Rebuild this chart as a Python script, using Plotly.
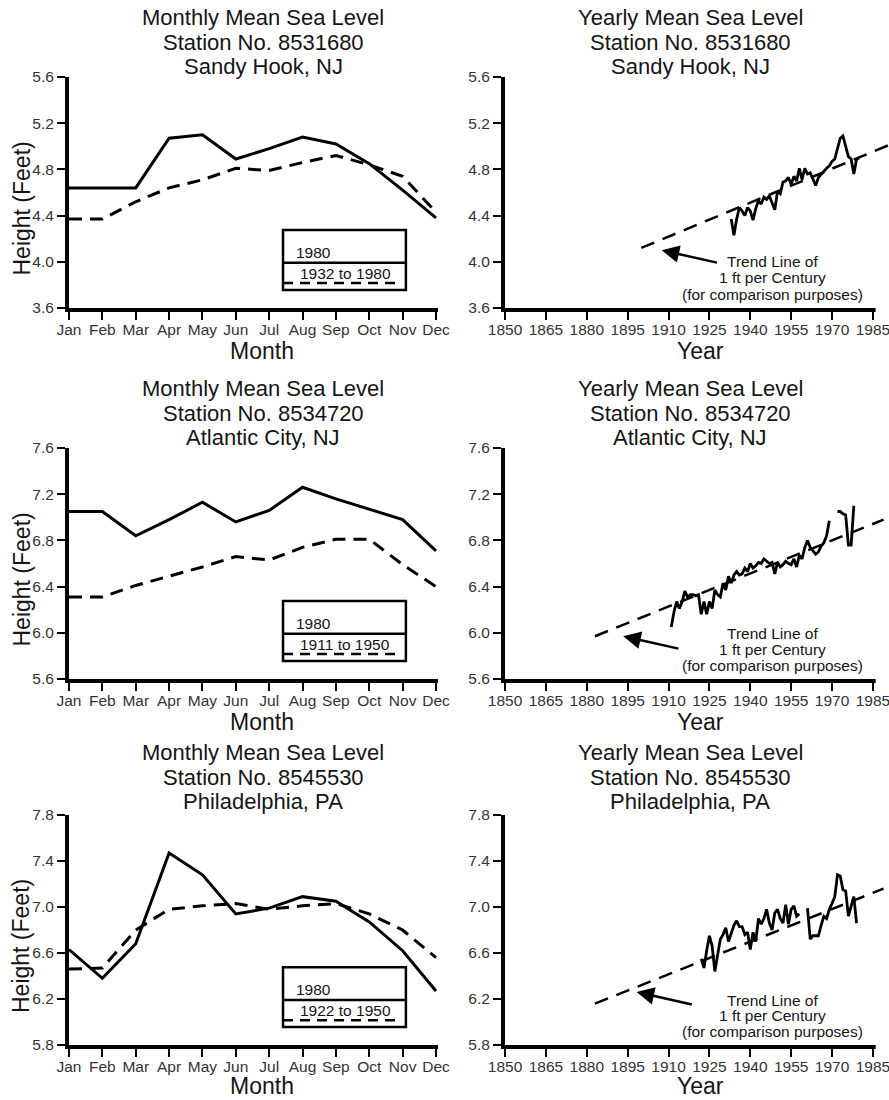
import plotly.graph_objects as go

FONT = "Liberation Sans, Arial, Helvetica, sans-serif"
INK = "#151515"
TICK_INK = "#333333"

# ---- categories / labels ----
MONTHS = ["Jan", "Feb", "Mar", "Apr", "May", "Jun", "Jul", "Aug", "Sep", "Oct", "Nov", "Dec"]
MONTH_POS = list(range(1, 13))

STATIONS = ["Sandy Hook, NJ", "Atlantic City, NJ", "Philadelphia, PA"]
STATION_IDS = ["8531680", "8534720", "8545530"]
MEAN_PERIODS = ["1932 to 1980", "1911 to 1950", "1922 to 1950"]

# ---- monthly mean sea level (feet) ----
SANDY_1980 = [4.64, 4.64, 4.64, 5.07, 5.10, 4.89, 4.98, 5.08, 5.02, 4.85, 4.62, 4.38]
SANDY_MEAN = [4.37, 4.37, 4.52, 4.64, 4.71, 4.81, 4.79, 4.86, 4.92, 4.84, 4.74, 4.43]

ATLANTIC_1980 = [7.05, 7.05, 6.84, 6.98, 7.13, 6.96, 7.06, 7.26, 7.16, 7.07, 6.98, 6.71]
ATLANTIC_MEAN = [6.31, 6.31, 6.41, 6.49, 6.57, 6.66, 6.63, 6.74, 6.81, 6.81, 6.59, 6.40]

PHILLY_1980 = [6.63, 6.38, 6.68, 7.47, 7.28, 6.94, 6.99, 7.09, 7.05, 6.87, 6.62, 6.27]
PHILLY_MEAN = [6.46, 6.47, 6.80, 6.98, 7.01, 7.03, 6.98, 7.01, 7.03, 6.94, 6.80, 6.56]

# ---- yearly mean sea level (feet) ----
SANDY_YEARS = list(range(1933, 1981))
SANDY_YEARLY = [
    4.37, 4.23, 4.37, 4.47, 4.44, 4.40, 4.47, 4.44, 4.36, 4.46,   # 1933-1942
    4.53, 4.50, 4.56, 4.54, 4.57, 4.51, 4.45, 4.61, 4.59, 4.69,   # 1943-1952
    4.70, 4.73, 4.67, 4.74, 4.70, 4.81, 4.71, 4.81, 4.76, 4.77,   # 1953-1962
    4.71, 4.66, 4.73, 4.76, 4.79, 4.81, 4.83, 4.87, 4.89, 4.97,   # 1963-1972
    5.07, 5.09, 5.01, 4.91, 4.89, 4.76, 4.89, 4.90,               # 1973-1980
]

ATLANTIC_YEARS = list(range(1911, 1979))
ATLANTIC_YEARLY = [
    6.05, 6.18, 6.27, 6.21, 6.27, 6.36, 6.31, 6.33, 6.33, 6.32,   # 1911-1920
    6.33, 6.16, 6.27, 6.16, 6.27, 6.21, 6.37, 6.33, 6.31, 6.43,   # 1921-1930
    6.37, 6.49, 6.43, 6.50, 6.53, 6.50, 6.51, 6.56, 6.53, 6.60,   # 1931-1940
    6.56, 6.58, 6.61, 6.60, 6.64, 6.62, 6.60, 6.61, 6.51, 6.61,   # 1941-1950
    6.57, 6.59, 6.62, 6.60, 6.59, 6.64, 6.57, 6.67, 6.64, 6.74,   # 1951-1960
    6.80, 6.74, 6.71, 6.68, 6.70, 6.75, 6.78, 6.84, 6.97, None,   # 1961-1970
    None, 7.05, 7.05, 7.03, 7.02, 6.76, 6.76, 7.10,               # 1971-1978
]

PHILLY_YEARS = list(range(1922, 1980))
PHILLY_YEARLY = [
    6.55, 6.47, 6.62, 6.75, 6.66, 6.44, 6.58, 6.72, 6.76, 6.82,   # 1922-1931
    6.70, 6.77, 6.84, 6.88, 6.83, 6.83, 6.76, 6.78, 6.63, 6.78,   # 1932-1941
    6.70, 6.90, 6.85, 6.90, 6.98, 6.86, 6.80, 6.95, 6.98, 6.90,   # 1942-1951
    6.86, 7.02, 6.85, 6.98, 7.01, 6.92, 6.94, None, None, 6.99,   # 1952-1961
    6.72, 6.75, 6.75, 6.75, 6.84, 6.92, 6.90, 6.98, 7.03, 7.09,   # 1962-1971
    7.28, 7.27, 7.15, 7.14, 6.92, 7.00, 7.09, 6.86,               # 1972-1979
]

# trend lines of 1 ft per century (end points)
TREND_X = [[1900.0, 1990.8], [1883.0, 1988.9], [1883.0, 1988.9]]
TREND_Y = [[4.12, 5.01], [5.97, 6.98], [6.16, 7.16]]

Y_TICKS = [
    [3.6, 4.0, 4.4, 4.8, 5.2, 5.6],
    [5.6, 6.0, 6.4, 6.8, 7.2, 7.6],
    [5.8, 6.2, 6.6, 7.0, 7.4, 7.8],
]
YEAR_TICKS = [1850, 1865, 1880, 1895, 1910, 1925, 1940, 1955, 1970, 1985]

MONTHLY_NOW = [SANDY_1980, ATLANTIC_1980, PHILLY_1980]
MONTHLY_MEAN = [SANDY_MEAN, ATLANTIC_MEAN, PHILLY_MEAN]
YEARLY_X = [SANDY_YEARS, ATLANTIC_YEARS, PHILLY_YEARS]
YEARLY_Y = [SANDY_YEARLY, ATLANTIC_YEARLY, PHILLY_YEARLY]

# ---- page geometry (pixels on an 889 x 1100 page) ----
W, H = 889, 1100


def fx(p):
    return p / W


def fy(p):
    return 1 - p / H


LEFT_DOM = [fx(69), fx(438)]
RIGHT_DOM = [fx(505), 1.0]
ROW_PX = [(77, 308), (448, 679), (815, 1045)]
ROW_SHIFT = [0, 371, 735]
MONTH_RANGE = [1, 12.06]
YEAR_RANGE = [1850, 1990.9]
YEAR_AXIS_END = 1986

TITLE_SIZE = 22
TITLE_LINES_PX = [17.4, 42, 66.6]
TREND_TEXT_PX = [[261.7, 278.0, 294.0], [633.3, 649.3, 665.0], [1000.0, 1015.5, 1031.0]]
TREND_TEXT = ["Trend Line of", "1 ft per Century", "(for comparison purposes)"]
# arrow head / tail (year, feet) pointing at the trend line
ARROW_HEAD = [(1907.5, 4.10), (1893.4, 5.97), (1898.3, 6.26)]
ARROW_TAIL = [(1928.3, 3.99), (1914.2, 5.86), (1919.1, 6.15)]

fig = go.Figure()
layout = dict(
    template="none",
    width=W, height=H, autosize=False,
    margin=dict(l=0, r=0, t=0, b=0, pad=0),
    paper_bgcolor="white", plot_bgcolor="white",
    showlegend=False,
    font=dict(family=FONT, color=INK),
)
annotations = []
shapes = []


def axname(kind, n):
    return kind if n == 1 else f"{kind}{n}"


def axis_common():
    return dict(
        automargin=False,
        showgrid=False, zeroline=False,
        ticks="outside", ticklen=8, tickwidth=2, tickcolor="black",
        tickfont=dict(family=FONT, size=15.5, color=TICK_INK),
        ticklabeloverflow="allow",
        fixedrange=True,
    )


def label(text, x, y, size, xref="paper", yref="paper", **kw):
    d = dict(text=text, x=x, y=y, xref=xref, yref=yref, showarrow=False,
             xanchor="center", yanchor="middle", borderpad=0,
             font=dict(family=FONT, size=size, color=INK))
    d.update(kw)
    return d


for i in range(3):
    top, bot = ROW_PX[i]
    ydom = [fy(bot), fy(top)]
    yr = [Y_TICKS[i][0], Y_TICKS[i][-1]]
    ln, rn = 2 * i + 1, 2 * i + 2
    lx, ly = axname("x", ln), axname("y", ln)
    rx, ry = axname("x", rn), axname("y", rn)

    # ---- monthly panel ----
    fig.add_trace(go.Scatter(x=MONTH_POS, y=MONTHLY_NOW[i], mode="lines",
                             line=dict(color="black", width=3),
                             xaxis=lx, yaxis=ly, hoverinfo="skip"))
    fig.add_trace(go.Scatter(x=MONTH_POS, y=MONTHLY_MEAN[i], mode="lines",
                             line=dict(color="black", width=3, dash="13px,8px"),
                             xaxis=lx, yaxis=ly, hoverinfo="skip"))

    # ---- yearly panel ----
    fig.add_trace(go.Scatter(x=TREND_X[i], y=TREND_Y[i], mode="lines",
                             line=dict(color="black", width=2.5, dash="14px,9px"),
                             xaxis=rx, yaxis=ry, hoverinfo="skip"))
    fig.add_trace(go.Scatter(x=YEARLY_X[i], y=YEARLY_Y[i], mode="lines",
                             connectgaps=False,
                             line=dict(color="black", width=2.8),
                             xaxis=rx, yaxis=ry, hoverinfo="skip"))

    # axes
    xl = axis_common()
    xl.update(domain=LEFT_DOM, range=MONTH_RANGE, anchor=ly,
              tickmode="array", tickvals=MONTH_POS, ticktext=MONTHS,
              ticklabelstandoff=-4,
              showline=True, linewidth=4, linecolor="black")
    yl = axis_common()
    yl.update(domain=ydom, range=yr, anchor=lx, tickmode="array",
              tickvals=Y_TICKS[i], tickformat=".1f",
              showline=True, linewidth=4, linecolor="black")
    xr = axis_common()
    xr.update(domain=RIGHT_DOM, range=YEAR_RANGE, anchor=ry,
              tickmode="array", tickvals=YEAR_TICKS, showline=False, ticklen=11,
              ticklabelstandoff=-4)
    yrr = axis_common()
    yrr.update(domain=ydom, range=yr, anchor=rx, tickmode="array",
               tickvals=Y_TICKS[i], tickformat=".1f",
               showline=True, linewidth=4, linecolor="black")
    layout["xaxis" if ln == 1 else f"xaxis{ln}"] = xl
    layout["yaxis" if ln == 1 else f"yaxis{ln}"] = yl
    layout[f"xaxis{rn}"] = xr
    layout[f"yaxis{rn}"] = yrr

    # year axis base line stops just past the last tick
    frac = (YEAR_AXIS_END - YEAR_RANGE[0]) / (YEAR_RANGE[1] - YEAR_RANGE[0])
    x_end = RIGHT_DOM[0] + frac * (RIGHT_DOM[1] - RIGHT_DOM[0])
    shapes.append(dict(type="line", xref="paper", yref="paper",
                       x0=RIGHT_DOM[0] - 4 / W, x1=x_end,
                       y0=fy(bot + 2), y1=fy(bot + 2),
                       line=dict(color="black", width=4)))

    # titles
    shift = ROW_SHIFT[i]
    left_lines = ["Monthly Mean Sea Level", f"Station No. {STATION_IDS[i]}", STATIONS[i]]
    right_lines = ["Yearly Mean Sea Level", f"Station No. {STATION_IDS[i]}", STATIONS[i]]
    for k in range(3):
        for cx, txt in ((263, left_lines[k]), (690, right_lines[k])):
            annotations.append(label(txt, fx(cx), fy(TITLE_LINES_PX[k] + shift), TITLE_SIZE))

    # axis titles
    annotations.append(label("Month", fx(262), fy(351 + shift), 23))
    annotations.append(label("Year", fx(700), fy(351 + shift), 23))
    annotations.append(label("Height (Feet)", fx(21), fy((top + bot) / 2 + 16), 23,
                             textangle=-90))

    # legend box on the monthly panel
    dx, dy = f"{lx} domain", f"{ly} domain"
    shapes.append(dict(type="rect", xref=dx, yref=dy, x0=0.580, x1=0.913,
                       y0=0.078, y1=0.338, line=dict(color="black", width=2.5),
                       fillcolor="white", layer="above"))
    shapes.append(dict(type="line", xref=dx, yref=dy, x0=0.580, x1=0.913,
                       y0=0.196, y1=0.196, line=dict(color="black", width=2.5)))
    shapes.append(dict(type="line", xref=dx, yref=dy, x0=0.580, x1=0.895,
                       y0=0.108, y1=0.108,
                       line=dict(color="black", width=2.5, dash="10px,7px")))
    annotations.append(label("1980", 0.612, 0.240, 15.5, xref=dx, yref=dy,
                             xanchor="left"))
    annotations.append(label(MEAN_PERIODS[i], 0.748, 0.150, 15.5, xref=dx, yref=dy))

    # trend line note and arrow
    for k in range(3):
        annotations.append(label(TREND_TEXT[k], 1948.0, fy(TREND_TEXT_PX[i][k]), 15.5,
                                 xref=rx))
    hx, hy = ARROW_HEAD[i]
    tx, ty = ARROW_TAIL[i]
    annotations.append(dict(text="", x=hx, y=hy, ax=tx, ay=ty,
                            xref=rx, yref=ry, axref=rx, ayref=ry,
                            showarrow=True, arrowhead=2, arrowsize=1.4,
                            arrowwidth=2.5, arrowcolor="black"))

layout["annotations"] = annotations
layout["shapes"] = shapes
fig.update_layout(**layout)
fig.write_html("out.html")
